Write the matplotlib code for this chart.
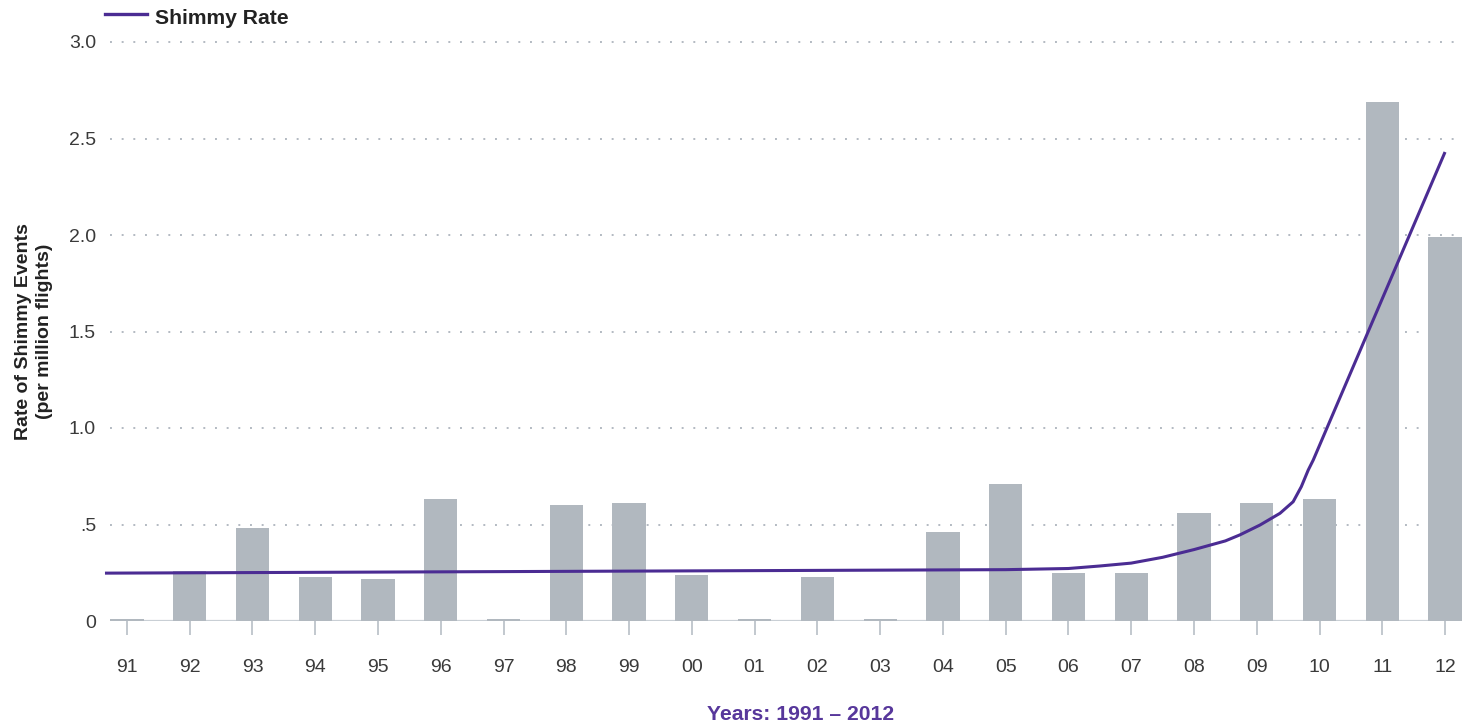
import matplotlib

matplotlib.use("Agg")
import matplotlib.pyplot as plt
from matplotlib.lines import Line2D

# bar values (events per million flights)
YEARS = ["91", "92", "93", "94", "95", "96", "97", "98", "99", "00", "01",
         "02", "03", "04", "05", "06", "07", "08", "09", "10", "11", "12"]
EVENTS = [0.01, 0.26, 0.48, 0.23, 0.22, 0.63, 0.01, 0.60, 0.61, 0.24, 0.01,
          0.23, 0.01, 0.46, 0.71, 0.25, 0.25, 0.56, 0.61, 0.63, 2.69, 1.99]

# trend line knots (x in year-index units)
RATE_X = [-0.35, 14.0, 15.0, 15.5, 16.0, 16.5, 17.0, 17.5, 17.73, 18.05,
          18.37, 18.58, 18.71, 18.82, 18.90, 21.0]
RATE_Y = [0.248, 0.266, 0.272, 0.285, 0.300, 0.330, 0.370, 0.415, 0.446, 0.497,
          0.558, 0.618, 0.696, 0.782, 0.834, 2.43]

Y_TICKS = [0, 0.5, 1.0, 1.5, 2.0, 2.5, 3.0]
Y_LABELS = ["0", ".5", "1.0", "1.5", "2.0", "2.5", "3.0"]

BAR = "#b1b8bf"
PURPLE = "#4b2c93"
GRID = "#b3bac2"
TEXT = "#3a3a3a"
FONT = "Liberation Sans"

plt.rcParams["font.family"] = FONT

W, H = 1469, 725
fig = plt.figure(figsize=(W / 100, H / 100), dpi=100)
ax = fig.add_axes([110 / W, 1 - 621 / H, (1462 - 110) / W, (621 - 42) / H])

x = list(range(len(YEARS)))
ax.bar(x, EVENTS, width=0.53, color=BAR, zorder=2)
ax.plot(RATE_X, RATE_Y, color=PURPLE, lw=2.2, zorder=3, clip_on=False,
        solid_capstyle="butt", solid_joinstyle="round")

ax.set_xlim(-0.27, 21.27)
ax.set_ylim(0, 3.0)
for s in ax.spines.values():
    s.set_visible(False)

for yv in Y_TICKS[1:]:
    ax.axhline(yv, color=GRID, lw=1.4, ls=(0, (1, 5)), zorder=1, clip_on=False)
ax.axhline(0, color="#c9cfd5", lw=1.6, zorder=1)

ax.set_yticks(Y_TICKS)
ax.set_yticklabels(Y_LABELS)
ax.tick_params(axis="y", length=0, pad=10, labelsize=14, labelcolor=TEXT)
ax.set_xticks(x)
ax.set_xticklabels(YEARS)
ax.tick_params(axis="x", length=10, width=1.2, color="#b8bfc6", direction="out",
               pad=17, labelsize=14, labelcolor=TEXT)

ax.set_ylabel("Rate of Shimmy Events\n(per million flights)", fontsize=14,
              fontweight="bold", color="#222222", linespacing=1.3)
ax.yaxis.set_label_coords(-0.0425, 0.5)

fig.text(801 / W, 1 - 714 / H, "Years: 1991 – 2012", ha="center", va="center",
         fontsize=15.2, fontweight="bold", color="#57379b")

# legend drawn by hand at the top left
fig.add_artist(Line2D([105 / W, 147 / W], [1 - 14 / H, 1 - 14 / H],
                      color=PURPLE, lw=2.4))
fig.text(155 / W, 1 - 18 / H, "Shimmy Rate", ha="left", va="center",
         fontsize=15.2, fontweight="bold", color="#222222")

fig.savefig("out.png", dpi=100, facecolor="white")
